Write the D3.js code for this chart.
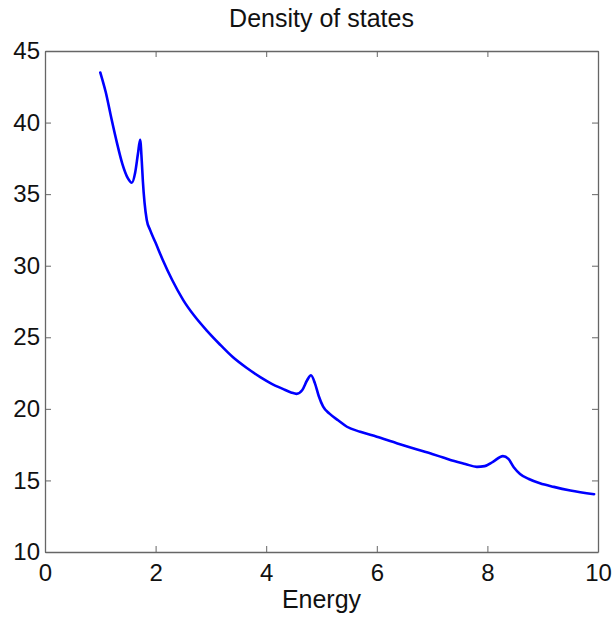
<!DOCTYPE html>
<html>
<head>
<meta charset="utf-8">
<script src="https://cdn.jsdelivr.net/npm/d3@7"></script>
<style>
  body { margin: 0; background: #fff; }
  text { font-family: "Liberation Sans", Arial, sans-serif; }
</style>
</head>
<body>
<script>
// energy values and density
var energy = [1.0, 1.1, 1.2, 1.3, 1.4, 1.5, 1.57, 1.63, 1.68, 1.72, 1.75, 1.77, 1.8, 1.84, 1.9, 2.0,
              2.13, 2.3, 2.5, 2.7, 2.93, 3.15, 3.4, 3.65, 3.9, 4.1, 4.3, 4.45, 4.55, 4.65, 4.74, 4.81,
              4.88, 4.95, 5.03, 5.15, 5.3, 5.46, 5.7, 6.0, 6.36, 6.7, 7.0, 7.2, 7.4, 7.6, 7.81, 7.95,
              8.1, 8.28, 8.38, 8.48, 8.59, 8.75, 8.95, 9.2, 9.5, 9.93];
var density = [43.5, 42.1, 40.3, 38.6, 37.1, 36.1, 35.8, 36.5, 37.8, 38.8, 37.3, 35.9, 34.4, 33.2, 32.5, 31.6,
               30.4, 29.0, 27.6, 26.5, 25.45, 24.55, 23.6, 22.85, 22.2, 21.75, 21.4, 21.15, 21.05, 21.3, 22.0, 22.35,
               21.8, 20.9, 20.15, 19.65, 19.2, 18.75, 18.4, 18.05, 17.6, 17.2, 16.85, 16.6, 16.35, 16.15, 15.95, 16.0,
               16.3, 16.7, 16.5, 15.9, 15.45, 15.1, 14.8, 14.55, 14.3, 14.04];
var xTicks = [0, 2, 4, 6, 8, 10];
var yTicks = [10, 15, 20, 25, 30, 35, 40, 45];

var width = 615, height = 621;
var margin = {left: 45, right: 17, top: 51, bottom: 69};
var w = width - margin.left - margin.right, h = height - margin.top - margin.bottom;
var axisColor = "#666";

var svg = d3.select("body").append("svg").attr("width", width).attr("height", height);
var g = svg.append("g").attr("transform", "translate(" + margin.left + "," + margin.top + ")");

var x = d3.scaleLinear().domain([0, 10]).range([0, w]);
var y = d3.scaleLinear().domain([10, 45]).range([h, 0]);

var styleAxis = function(sel, showLabels) {
    sel.selectAll("path").attr("stroke", axisColor).attr("stroke-width", 1.3);
    sel.selectAll("line").attr("stroke", axisColor).attr("stroke-width", 1);
    sel.selectAll("text").attr("font-size", "24px").attr("fill", "#111")
       .attr("font-family", "Liberation Sans, Arial, sans-serif");
    if (!showLabels) sel.selectAll("text").remove();
};

// inward ticks on all four sides, like the matlab box
g.append("g").attr("transform", "translate(0," + h + ")")
    .call(d3.axisBottom(x).tickValues(xTicks).tickSizeInner(-6).tickSizeOuter(0).tickPadding(12))
    .call(styleAxis, true);
g.append("g")
    .call(d3.axisTop(x).tickValues(xTicks).tickSizeInner(-6).tickSizeOuter(0))
    .call(styleAxis, false);
g.append("g")
    .call(d3.axisLeft(y).tickValues(yTicks).tickSizeInner(-6).tickSizeOuter(0).tickPadding(5))
    .call(styleAxis, true);
g.append("g").attr("transform", "translate(" + w + ",0)")
    .call(d3.axisRight(y).tickValues(yTicks).tickSizeInner(-6).tickSizeOuter(0))
    .call(styleAxis, false);

var pts = energy.map(function(e, i) { return [e, density[i]]; });
var line = d3.line().x(function(d) { return x(d[0]); }).y(function(d) { return y(d[1]); })
    .curve(d3.curveMonotoneX);

g.append("path").datum(pts).attr("d", line)
    .attr("fill", "none").attr("stroke", "#0000ff").attr("stroke-width", 2.6)
    .attr("stroke-linejoin", "round").attr("stroke-linecap", "round");

svg.append("text").attr("x", margin.left + w / 2).attr("y", 27)
    .attr("text-anchor", "middle").attr("font-size", "25px").attr("fill", "#111")
    .text("Density of states");

svg.append("text").attr("x", margin.left + w / 2).attr("y", 608)
    .attr("text-anchor", "middle").attr("font-size", "25px").attr("fill", "#111")
    .text("Energy");
</script>
</body>
</html>
